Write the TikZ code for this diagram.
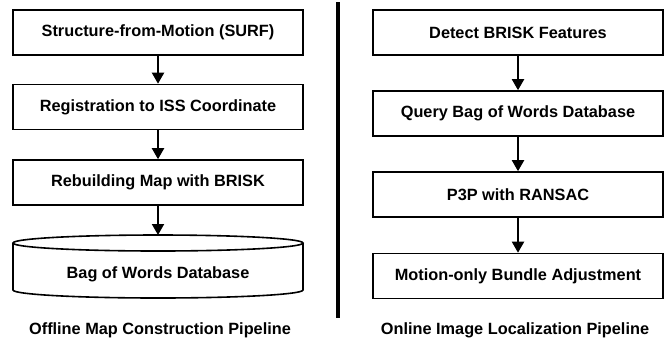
\documentclass[tikz,border=0pt]{standalone}
\usepackage{fontspec}
\setmainfont{Liberation Sans}
\usetikzlibrary{arrows.meta}
\tikzset{
  stagebox/.style={draw, line width=1.6bp, rectangle, minimum width=290bp, minimum height=45bp,
    inner sep=0pt, font=\bfseries\fontsize{16.3bp}{19bp}\selectfont},
  plain/.style={inner sep=0pt, font=\bfseries\fontsize{16.3bp}{19bp}\selectfont},
  arr/.style={line width=2bp, -{Triangle[width=12bp,length=11bp]}},
}
\begin{document}
\begin{tikzpicture}[x=1bp, y=-1bp]
\useasboundingbox (0,0) rectangle (669,343);

% offline pipeline
\node[stagebox] (l1) at (158,32.5) {Structure-from-Motion (SURF)};
\node[stagebox] (l2) at (158,107) {Registration to ISS Coordinate};
\node[stagebox] (l3) at (158,182.5) {Rebuilding Map with BRISK};

% database cylinder
\draw[line width=1.6bp] (158,243) ellipse [x radius=145, y radius=8];
\draw[line width=1.6bp] (13,243) -- (13,290)
  arc [start angle=180, end angle=360, x radius=145, y radius=-8] -- (303,243);
\node[plain] (db) at (158,274.5) {Bag of Words Database};
\coordinate (dbtop) at (158,235);

\draw[arr] (l1) -- (l2);
\draw[arr] (l2) -- (l3);
\draw[arr] (l3) -- (dbtop);

\node[plain] (lcap) at (160,330) {Offline Map Construction Pipeline};

% separator
\draw[line width=3.5bp] (338,2) -- (338,318);

% online pipeline
\node[stagebox] (r1) at (518,32.5) {Detect BRISK Features};
\node[stagebox] (r2) at (518,113.5) {Query Bag of Words Database};
\node[stagebox] (r3) at (518,194.5) {P3P with RANSAC};
\node[stagebox] (r4) at (518,276) {Motion-only Bundle Adjustment};

\draw[arr] (r1) -- (r2);
\draw[arr] (r2) -- (r3);
\draw[arr] (r3) -- (r4);

\node[plain] (rcap) at (515,330) {Online Image Localization Pipeline};
\end{tikzpicture}
\end{document}
